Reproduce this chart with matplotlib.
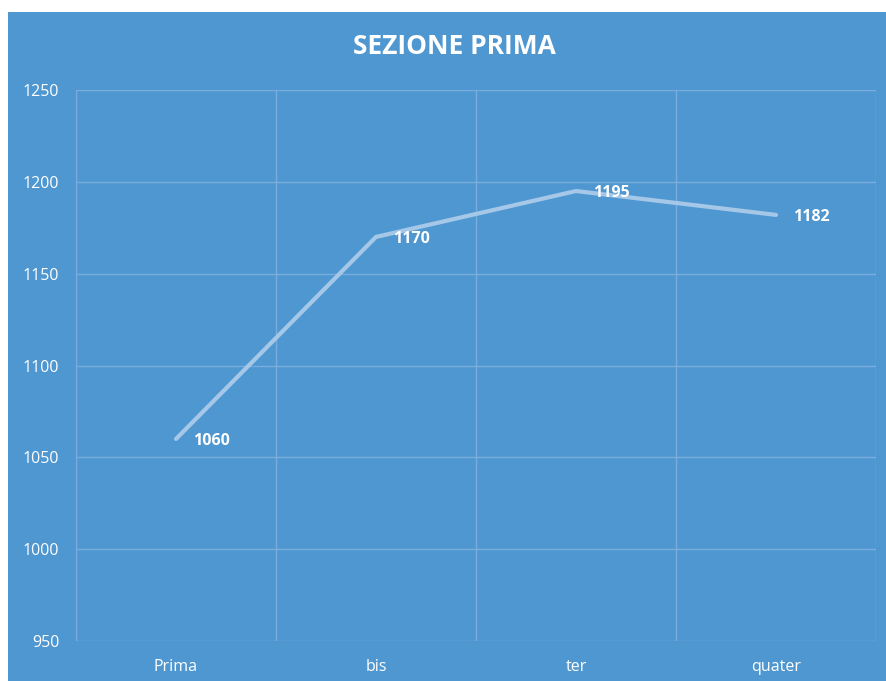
import matplotlib
matplotlib.use("Agg")
import matplotlib.pyplot as plt
from matplotlib.patches import Rectangle

categories = ["Prima", "bis", "ter", "quater"]
values = [1060, 1170, 1195, 1182]
yticks = [950, 1000, 1050, 1100, 1150, 1200, 1250]
title = "SEZIONE PRIMA"

W, H = 887, 681
bg = "#4F97D1"
grid_c = "#78ADDD"
line_c = "#A5C8E8"

fig = plt.figure(figsize=(W/100, H/100), dpi=100)
fig.patch.set_facecolor(bg)
# white margins on left and top
fig.patches.append(Rectangle((0, 0), 8/W, 1, transform=fig.transFigure,
                             facecolor="white", edgecolor="none"))
fig.patches.append(Rectangle((0, 1 - 12/H), 1, 12/H, transform=fig.transFigure,
                             facecolor="white", edgecolor="none"))

ax = fig.add_axes([76/W, 1 - 641/H, 800/W, 551/H])
ax.set_facecolor(bg)
x = list(range(len(categories)))
ax.plot(x, values, color=line_c, lw=3, solid_capstyle="round", zorder=3)
for xi, v in zip(x, values):
    ax.annotate(str(v), (xi, v), xytext=(12, -1.5), textcoords="offset points",
                ha="left", va="center", color="white", fontsize=11.5,
                fontweight="bold", family="Open Sans", zorder=4)

ax.set_xlim(-0.5, len(categories) - 0.5)
ax.set_ylim(950, 1250)
ax.set_yticks(yticks)
ax.set_yticklabels([str(t) for t in yticks])
ax.set_xticks(x)
ax.set_xticklabels(categories)
ax.set_xticks([i - 0.5 for i in range(len(categories) + 1)], minor=True)
ax.grid(True, which="major", axis="y", color=grid_c, lw=1)
ax.grid(True, which="minor", axis="x", color=grid_c, lw=1)
ax.set_axisbelow(True)
for s in ax.spines.values():
    s.set_visible(False)
ax.tick_params(axis="both", which="both", length=0, colors="white", labelsize=11.5)
ax.tick_params(axis="y", pad=12)
ax.tick_params(axis="x", pad=13)
for lab in ax.get_xticklabels() + ax.get_yticklabels():
    lab.set_family("Open Sans")
    lab.set_color("white")

fig.text(454/W, 1 - 47/H, title, ha="center", va="center", color="white",
         fontsize=19, fontweight="bold", family="Open Sans")

fig.savefig("out.png", dpi=100, facecolor=bg)
